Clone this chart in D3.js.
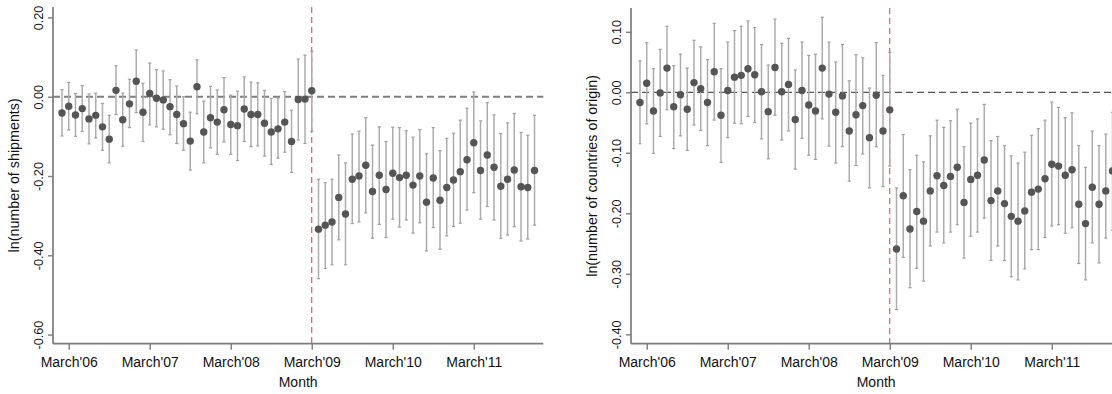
<!DOCTYPE html>
<html>
<head>
<meta charset="utf-8">
<script src="https://cdn.jsdelivr.net/npm/d3@7"></script>
<style>
  html, body { margin: 0; padding: 0; background: #fff; }
  svg { display: block; }
  text { font-family: "Liberation Sans", Arial, Helvetica, sans-serif; fill: #111; }
</style>
</head>
<body>
<svg id="chart" width="1112" height="394"></svg>
<script>
// Monthly event-study coefficients with 95% confidence intervals, Feb 2006 – Dec 2011.
const months = d3.timeMonth.range(new Date(2006, 1, 1), new Date(2012, 0, 1));
const tickLabels = ["March'06", "March'07", "March'08", "March'09", "March'10", "March'11"];
const tickMonths = [new Date(2006, 2, 1), new Date(2007, 2, 1), new Date(2008, 2, 1),
                    new Date(2009, 2, 1), new Date(2010, 2, 1), new Date(2011, 2, 1)];
const breakMonth = new Date(2009, 2, 1);

// ln(number of shipments)
const shipCoef = [
  -0.041, -0.024, -0.046, -0.030, -0.056, -0.047, -0.076, -0.107, 0.016, -0.058,
  -0.018, 0.039, -0.039, 0.008, -0.004, -0.008, -0.025, -0.045, -0.068, -0.112,
  0.025, -0.089, -0.053, -0.064, -0.033, -0.070, -0.073, -0.031, -0.045, -0.045,
  -0.067, -0.089, -0.081, -0.064, -0.113, -0.007, -0.006, 0.015,
  -0.334, -0.324, -0.316, -0.254, -0.296, -0.208, -0.200, -0.173, -0.239, -0.198,
  -0.234, -0.193, -0.204, -0.198, -0.223, -0.200, -0.266, -0.205, -0.261, -0.229,
  -0.210, -0.189, -0.159, -0.116, -0.186, -0.147, -0.178, -0.226, -0.208, -0.185,
  -0.227, -0.229, -0.186
];
const shipHi = [
  0.018, 0.036, 0.008, 0.028, 0.007, 0.009, -0.017, -0.047, 0.078, 0.009,
  0.044, 0.118, 0.034, 0.085, 0.068, 0.065, 0.043, 0.027, 0.000, -0.039,
  0.093, -0.011, 0.026, 0.017, 0.048, 0.004, 0.014, 0.050, 0.037, 0.035,
  0.016, -0.004, -0.003, 0.013, -0.034, 0.095, 0.105, 0.115,
  -0.208, -0.217, -0.208, -0.147, -0.167, -0.094, -0.087, -0.053, -0.122, -0.076,
  -0.113, -0.077, -0.078, -0.086, -0.102, -0.083, -0.144, -0.078, -0.136, -0.105,
  -0.092, -0.059, -0.029, 0.012, -0.061, -0.015, -0.046, -0.093, -0.066, -0.042,
  -0.090, -0.097, -0.047
];
const shipLo = [
  -0.099, -0.084, -0.100, -0.087, -0.119, -0.104, -0.135, -0.167, -0.045, -0.125,
  -0.078, -0.040, -0.113, -0.071, -0.076, -0.082, -0.096, -0.118, -0.135, -0.185,
  -0.043, -0.167, -0.129, -0.145, -0.114, -0.145, -0.161, -0.113, -0.126, -0.124,
  -0.150, -0.171, -0.155, -0.140, -0.191, -0.109, -0.118, -0.087,
  -0.459, -0.433, -0.424, -0.361, -0.424, -0.320, -0.316, -0.293, -0.357, -0.322,
  -0.355, -0.309, -0.329, -0.311, -0.344, -0.318, -0.389, -0.330, -0.385, -0.351,
  -0.327, -0.319, -0.286, -0.242, -0.309, -0.277, -0.311, -0.357, -0.349, -0.328,
  -0.364, -0.359, -0.324
];

// ln(number of countries of origin)
const originCoef = [
  -0.017, 0.015, -0.031, -0.001, 0.040, -0.024, -0.004, -0.028, 0.016, 0.006,
  -0.017, 0.034, -0.038, 0.003, 0.025, 0.028, 0.039, 0.029, 0.001, -0.032,
  0.041, 0.001, 0.013, -0.045, 0.003, -0.021, -0.031, 0.040, -0.003, -0.033,
  -0.006, -0.064, -0.037, -0.022, -0.075, -0.005, -0.064, -0.029,
  -0.259, -0.171, -0.226, -0.197, -0.213, -0.163, -0.138, -0.154, -0.139, -0.124,
  -0.182, -0.144, -0.137, -0.112, -0.179, -0.163, -0.184, -0.205, -0.213, -0.196,
  -0.165, -0.160, -0.143, -0.119, -0.122, -0.137, -0.128, -0.185, -0.217, -0.157,
  -0.185, -0.163, -0.130
];
const originHi = [
  0.052, 0.082, 0.039, 0.071, 0.109, 0.044, 0.063, 0.040, 0.086, 0.075,
  0.054, 0.114, 0.039, 0.083, 0.102, 0.109, 0.118, 0.107, 0.079, 0.045,
  0.121, 0.081, 0.089, 0.037, 0.083, 0.061, 0.063, 0.124, 0.083, 0.050,
  0.079, 0.019, 0.062, 0.057, 0.007, 0.082, 0.028, 0.066,
  -0.158, -0.070, -0.128, -0.104, -0.115, -0.072, -0.046, -0.058, -0.047, -0.028,
  -0.090, -0.051, -0.044, -0.020, -0.080, -0.073, -0.088, -0.105, -0.117, -0.099,
  -0.071, -0.060, -0.046, -0.016, -0.025, -0.042, -0.034, -0.088, -0.124, -0.064,
  -0.088, -0.069, -0.033
];
const originLo = [
  -0.085, -0.052, -0.101, -0.073, -0.029, -0.093, -0.072, -0.096, -0.054, -0.063,
  -0.088, -0.046, -0.116, -0.075, -0.051, -0.052, -0.040, -0.050, -0.077, -0.110,
  -0.038, -0.079, -0.064, -0.127, -0.076, -0.104, -0.111, -0.044, -0.089, -0.117,
  -0.090, -0.147, -0.121, -0.102, -0.158, -0.090, -0.156, -0.122,
  -0.359, -0.273, -0.323, -0.291, -0.312, -0.254, -0.231, -0.249, -0.231, -0.219,
  -0.274, -0.238, -0.231, -0.208, -0.278, -0.254, -0.278, -0.305, -0.310, -0.292,
  -0.260, -0.260, -0.240, -0.221, -0.219, -0.233, -0.224, -0.283, -0.310, -0.249,
  -0.282, -0.241, -0.228
];

const shipTicks = [0.2, 0.0, -0.2, -0.4, -0.6];
const originTicks = [0.1, 0.0, -0.1, -0.2, -0.3, -0.4];

// months counted from March 2006
const monthNum = d => (d.getFullYear() - 2006) * 12 + d.getMonth() - 2;

const svg = d3.select("#chart");
const axisColor = "#7c7c7c";

function drawPanel(opts) {
  const g = svg.append("g").attr("transform", `translate(${opts.offset},0)`);
  const x = d3.scaleLinear().domain([-2.33, 70.3]).range([53, 543.3]);
  const y = d3.scaleLinear().domain(opts.yDomain).range([343.7, opts.top]);

  const rows = months.map((m, i) => ({
    m: monthNum(m), coef: opts.coef[i], lo: opts.lo[i], hi: opts.hi[i]
  }));

  // horizontal reference line at zero
  g.append("line")
    .attr("x1", x.range()[0]).attr("x2", x.range()[1])
    .attr("y1", y(0)).attr("y2", y(0))
    .attr("stroke", opts.zeroColor).attr("stroke-width", opts.zeroWidth)
    .attr("stroke-dasharray", "7,4");

  // vertical line at March 2009
  g.append("line")
    .attr("x1", x(monthNum(breakMonth))).attr("x2", x(monthNum(breakMonth)))
    .attr("y1", opts.top).attr("y2", 343.7)
    .attr("stroke", "#e8323c").attr("stroke-width", 1)
    .attr("stroke-dasharray", "6,4");

  // confidence intervals
  const ci = g.append("g");
  ci.selectAll("line.bar").data(rows).join("line").attr("class", "bar")
    .attr("x1", d => x(d.m)).attr("x2", d => x(d.m))
    .attr("y1", d => y(d.hi)).attr("y2", d => y(d.lo))
    .attr("stroke", "#acacac").attr("stroke-width", 1.5);
  ["hi", "lo"].forEach(k => {
    ci.selectAll("line.cap-" + k).data(rows).join("line").attr("class", "cap-" + k)
      .attr("x1", d => x(d.m) - 1.6).attr("x2", d => x(d.m) + 1.6)
      .attr("y1", d => y(d[k])).attr("y2", d => y(d[k]))
      .attr("stroke", "#a0a0a0").attr("stroke-width", 1.2);
  });

  // point estimates
  g.append("g").selectAll("circle").data(rows).join("circle")
    .attr("cx", d => x(d.m)).attr("cy", d => y(d.coef)).attr("r", 3.7)
    .attr("fill", "#555555");

  // y axis
  const yAxis = g.append("g").attr("transform", "translate(53,0)")
    .call(d3.axisLeft(y).tickValues(opts.ticks).tickSize(5)
      .tickFormat(v => (Math.abs(v) < 1e-9 ? 0 : v).toFixed(2)));
  yAxis.select(".domain").attr("d", `M0,${opts.top}V343.7`);
  yAxis.selectAll("text")
    .attr("x", null).attr("dy", null).attr("y", null)
    .attr("text-anchor", "middle")
    .attr("transform", "translate(-10.5,0) rotate(-90)")
    .style("font-size", "12.7px");

  // x axis
  const xAxis = g.append("g").attr("transform", "translate(0,343.7)")
    .call(d3.axisBottom(x).tickValues(tickMonths.map(monthNum)).tickSize(6).tickPadding(7)
      .tickFormat((v, i) => tickLabels[i]));
  xAxis.select(".domain").attr("d", `M53,0H543.3`);
  xAxis.selectAll("text").style("font-size", "14px");

  [yAxis, xAxis].forEach(a => {
    a.attr("font-family", null).attr("font-size", null);
    a.select(".domain").attr("stroke", axisColor).attr("stroke-width", 1.7);
    a.selectAll(".tick line").attr("stroke", axisColor).attr("stroke-width", 1.4);
  });

  // axis titles
  g.append("text")
    .attr("x", (53 + 543.3) / 2).attr("y", 387)
    .attr("text-anchor", "middle").style("font-size", "14px")
    .text("Month");
  g.append("text")
    .attr("transform", `translate(19,${(opts.top + 343.7) / 2}) rotate(-90)`)
    .attr("text-anchor", "middle").style("font-size", "14.3px")
    .text(opts.title);
}

drawPanel({
  offset: 0, top: 7, yDomain: [-0.623, 0.2263], ticks: shipTicks,
  coef: shipCoef, lo: shipLo, hi: shipHi,
  title: "ln(number of shipments)", zeroColor: "#7f7f7f", zeroWidth: 2
});
drawPanel({
  offset: 578, top: 8, yDomain: [-0.4155, 0.1393], ticks: originTicks,
  coef: originCoef, lo: originLo, hi: originHi,
  title: "ln(number of countries of origin)", zeroColor: "#555555", zeroWidth: 1.3
});
</script>
</body>
</html>
